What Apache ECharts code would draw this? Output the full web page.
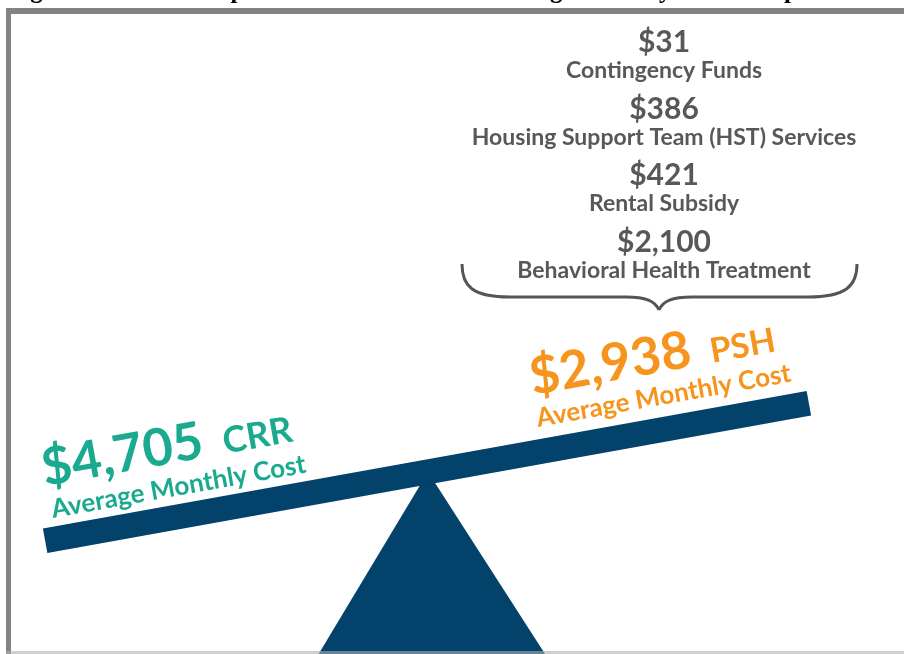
<!DOCTYPE html>
<html>
<head>
<meta charset="utf-8">
<script src="https://cdn.jsdelivr.net/npm/echarts@6/dist/echarts.min.js"></script>
<style>
  html, body { margin: 0; padding: 0; background: #fff; }
  #chart { width: 904px; height: 654px; }
</style>
</head>
<body>
<div id="chart"></div>
<script>
// cost breakdown for PSH (top list) and totals on the seesaw
const componentNames = ['Contingency Funds', 'Housing Support Team (HST) Services', 'Rental Subsidy', 'Behavioral Health Treatment']
const componentCosts = [31, 386, 421, 2100]
const programs = ['CRR', 'PSH']
const programCosts = [4705, 2938]
const costLabel = 'Average Monthly Cost'
const titleText = 'Figure 10: Cost Comparison of CRR & PSH Average Monthly Cost Components'

const FONT = 'Lato, "Open Sans", sans-serif'
const GRAY = '#58585a'
const NAVY = '#03426b'
const programColors = ['#1aaa8f', '#f7941e']

const money = (v) => '$' + v.toLocaleString('en-US')
// y for a 'middle' aligned text so its alphabetic baseline lands on b
const mid = (b, fs) => b - 0.32 * fs

const chart = echarts.init(document.getElementById('chart'), null, { renderer: 'canvas' })

const tilt = (10.2 * Math.PI) / 180

function programGroup(i, anchor, labelAnchor, tagOffset, tagSize) {
  const color = programColors[i]
  return [
    {
      type: 'group',
      x: anchor[0],
      y: anchor[1],
      rotation: tilt,
      z: 20,
      children: [
        {
          type: 'text',
          x: 0,
          y: mid(0, 52),
          style: { text: money(programCosts[i]), fontSize: 52, fontWeight: 'bold', fontFamily: FONT, fill: color, align: 'left', verticalAlign: 'middle' },
        },
        {
          type: 'text',
          x: tagOffset,
          y: mid(0, tagSize),
          style: { text: programs[i], fontSize: tagSize, fontWeight: 'bold', fontFamily: FONT, fill: color, align: 'left', verticalAlign: 'middle' },
        },
      ],
    },
    {
      type: 'group',
      x: labelAnchor[0],
      y: labelAnchor[1],
      rotation: tilt,
      z: 20,
      children: [
        {
          type: 'text',
          x: 0,
          y: mid(0, 26),
          style: { text: costLabel, fontSize: 26, fontWeight: 'bold', fontFamily: FONT, fill: color, align: 'left', verticalAlign: 'middle' },
        },
      ],
    },
  ]
}

// brace pieces
const braceStyle = { stroke: '#555', lineWidth: 3, fill: 'none' }
const curve = (a, c1, c2, b) => ({
  type: 'bezierCurve',
  z: 5,
  shape: { x1: a[0], y1: a[1], cpx1: c1[0], cpy1: c1[1], cpx2: c2[0], cpy2: c2[1], x2: b[0], y2: b[1] },
  style: braceStyle,
})
const straight = (a, b) => ({
  type: 'line',
  z: 5,
  shape: { x1: a[0], y1: a[1], x2: b[0], y2: b[1] },
  style: braceStyle,
})

// beam geometry
const beamCenter = [427, 472]
const beamLen = 776
const beamThick = 25

chart.setOption({
  animation: false,
  backgroundColor: '#fff',
  grid: { left: 464, width: 400, top: 28.7, height: 266.7 },
  xAxis: { type: 'value', min: 0, max: 1, show: false },
  yAxis: { type: 'category', data: componentNames, inverse: true, show: false },
  series: [
    {
      type: 'custom',
      z: 10,
      data: componentCosts.map((v, i) => [0.5, i, v]),
      encode: { x: 0, y: 1 },
      renderItem: (params, api) => {
        const p = api.coord([api.value(0), api.value(1)])
        const i = params.dataIndex
        return {
          type: 'group',
          children: [
            {
              type: 'text',
              x: p[0],
              y: mid(p[1] - 10, 30),
              style: { text: money(api.value(2)), fontSize: 30, fontWeight: 'bold', fontFamily: FONT, fill: GRAY, align: 'center', verticalAlign: 'middle' },
            },
            {
              type: 'text',
              x: p[0],
              y: mid(p[1] + 16, 23),
              style: { text: componentNames[i], fontSize: 23, fontWeight: 'bold', fontFamily: FONT, fill: GRAY, align: 'center', verticalAlign: 'middle' },
            },
          ],
        }
      },
    },
  ],
  graphic: [
    // figure caption, cropped by the top of the picture
    {
      type: 'text',
      x: 8,
      y: mid(0, 25),
      z: 1,
      style: { text: titleText, fontSize: 25, fontWeight: 'bold', fontFamily: '"Liberation Serif", serif', fill: '#000', align: 'left', verticalAlign: 'middle' },
    },
    // frame
    { type: 'rect', z: 2, shape: { x: 6, y: 8, width: 898, height: 6 }, style: { fill: '#838383' } },
    { type: 'rect', z: 2, shape: { x: 6, y: 8, width: 5, height: 646 }, style: { fill: '#838383' } },
    // brace under the breakdown
    curve([462, 264], [462, 286], [472, 297], [510, 297]),
    straight([510, 297], [626, 297]),
    curve([626, 297], [646, 297], [655, 301], [659, 310]),
    curve([659, 310], [663, 301], [672, 297], [692, 297]),
    straight([692, 297], [808, 297]),
    curve([808, 297], [846, 297], [857, 286], [857, 264]),
    // fulcrum
    {
      type: 'polygon',
      z: 6,
      shape: { points: [[428, 472], [300, 685], [565, 685]] },
      style: { fill: NAVY },
    },
    // beam
    {
      type: 'rect',
      z: 7,
      x: beamCenter[0],
      y: beamCenter[1],
      rotation: tilt,
      shape: { x: -beamLen / 2, y: -beamThick / 2, width: beamLen, height: beamThick },
      style: { fill: NAVY },
    },
    // bottom edge of the frame
    { type: 'rect', z: 8, shape: { x: 6, y: 651, width: 898, height: 3 }, style: { fill: 'rgba(175,175,175,0.6)' } },
    ...programGroup(0, [45, 486], [53, 518], 183, 36),
    ...programGroup(1, [533, 395], [538, 427], 182, 34),
  ],
})
</script>
</body>
</html>
